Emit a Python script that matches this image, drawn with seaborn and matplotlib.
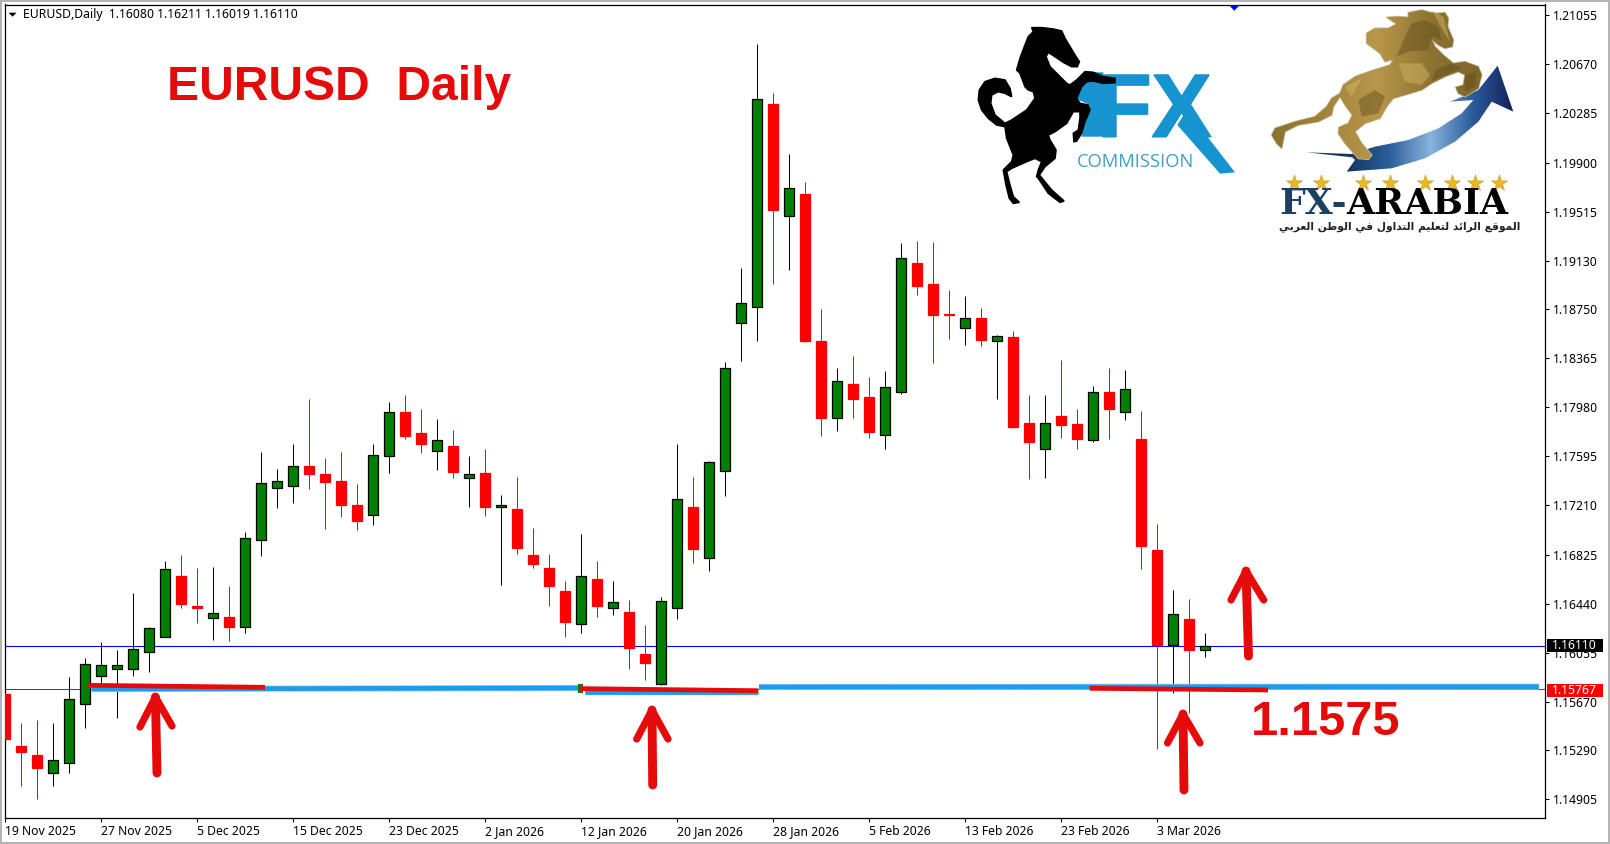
'''
EURUSD daily candlestick chart with the two broker logos and support marks
'''
import matplotlib
matplotlib.use('Agg')
import matplotlib.patheffects as pe
import matplotlib.pyplot as plt
from matplotlib.colors import LinearSegmentedColormap
from matplotlib.patches import Polygon, Rectangle
import numpy as np
import pandas as pd
import seaborn as sns

# candles, oldest first
OPENS = [1.15731, 1.15323, 1.15250, 1.15109, 1.15187, 1.15655, 1.15874, 1.15930, 1.15930, 1.16064,
         1.16180, 1.16657, 1.16421, 1.16329, 1.16335, 1.16259, 1.16937, 1.17349, 1.17364, 1.17520,
         1.17457, 1.17398, 1.17214, 1.17137, 1.17600, 1.17943, 1.17778, 1.17640, 1.17676, 1.17428,
         1.17464, 1.17200, 1.17182, 1.16821, 1.16720, 1.16539, 1.16282, 1.16633, 1.16407, 1.16375,
         1.16045, 1.15811, 1.16402, 1.17198, 1.16799, 1.17483, 1.18639, 1.18764, 1.20359, 1.19483,
         1.19653, 1.18500, 1.17898, 1.18163, 1.18061, 1.17765, 1.18102, 1.19112, 1.18947, 1.18709,
         1.18604, 1.18680, 1.18502, 1.18531, 1.17857, 1.17655, 1.17912, 1.17849, 1.17726, 1.18100,
         1.17945, 1.17729, 1.16861, 1.16113, 1.16319, 1.16080]
HIGHS = [1.15972, 1.15501, 1.15527, 1.15501, 1.15864, 1.16011, 1.16139, 1.16076, 1.16523, 1.16254,
         1.16774, 1.16821, 1.16719, 1.16727, 1.16578, 1.16999, 1.17629, 1.17496, 1.17692, 1.18045,
         1.17582, 1.17629, 1.17378, 1.17692, 1.18022, 1.18076, 1.17967, 1.17888, 1.17802, 1.17598,
         1.17653, 1.17292, 1.17433, 1.17033, 1.16829, 1.16620, 1.16987, 1.16775, 1.16619, 1.16468,
         1.16272, 1.16492, 1.17692, 1.17433, 1.17559, 1.18335, 1.19073, 1.20830, 1.20445, 1.19967,
         1.19747, 1.18751, 1.18288, 1.18382, 1.18218, 1.18265, 1.19269, 1.19285, 1.19277, 1.18900,
         1.18853, 1.18757, 1.18547, 1.18578, 1.18076, 1.18076, 1.18351, 1.17967, 1.18147, 1.18288,
         1.18273, 1.17953, 1.17065, 1.16547, 1.16476, 1.16211]
LOWS = [1.15174, 1.15012, 1.14910, 1.15012, 1.15114, 1.15467, 1.15762, 1.15545, 1.15874, 1.15906,
        1.16178, 1.16408, 1.16285, 1.16157, 1.16149, 1.16212, 1.16816, 1.17190, 1.17229, 1.17339,
        1.17028, 1.17119, 1.17020, 1.17059, 1.17464, 1.17730, 1.17618, 1.17488, 1.17425, 1.17200,
        1.17127, 1.16588, 1.16829, 1.16719, 1.16421, 1.16179, 1.16209, 1.16335, 1.16351, 1.15927,
        1.15841, 1.15802, 1.16320, 1.16759, 1.16697, 1.17285, 1.18345, 1.18502, 1.18947, 1.19057,
        1.18492, 1.17755, 1.17794, 1.17897, 1.17739, 1.17653, 1.18084, 1.18861, 1.18327, 1.18516,
        1.18469, 1.18461, 1.18045, 1.17818, 1.17417, 1.17425, 1.17739, 1.17653, 1.17708, 1.17731,
        1.17880, 1.16711, 1.15299, 1.15741, 1.15584, 1.16019]
CLOSES = [1.15380, 1.15278, 1.15153, 1.15211, 1.15689, 1.15964, 1.15956, 1.15956, 1.16082, 1.16246,
          1.16709, 1.16439, 1.16406, 1.16364, 1.16259, 1.16953, 1.17384, 1.17400, 1.17517, 1.17457,
          1.17397, 1.17214, 1.17088, 1.17603, 1.17941, 1.17755, 1.17692, 1.17721, 1.17472, 1.17457,
          1.17198, 1.17210, 1.16876, 1.16751, 1.16579, 1.16296, 1.16660, 1.16421, 1.16451, 1.16092,
          1.15974, 1.16457, 1.17257, 1.16868, 1.17548, 1.18287, 1.18796, 1.20396, 1.19528, 1.19698,
          1.18500, 1.17897, 1.18184, 1.18045, 1.17786, 1.18137, 1.19149, 1.18931, 1.18704, 1.18704,
          1.18678, 1.18508, 1.18537, 1.17825, 1.17708, 1.17854, 1.17841, 1.17731, 1.18098, 1.17967,
          1.18121, 1.16892, 1.16113, 1.16356, 1.16076, 1.16110]

# axes labels
X_TICKS = [0, 6, 12, 18, 24, 30, 36, 42, 48, 54, 60, 66, 72]
X_LABELS = ['19 Nov 2025', '27 Nov 2025', '5 Dec 2025', '15 Dec 2025', '23 Dec 2025',
            '2 Jan 2026', '12 Jan 2026', '20 Jan 2026', '28 Jan 2026', '5 Feb 2026',
            '13 Feb 2026', '23 Feb 2026', '3 Mar 2026']
Y_TICKS = [1.21055, 1.20670, 1.20285, 1.19900, 1.19515, 1.19130, 1.18750, 1.18365, 1.17980,
           1.17595, 1.17210, 1.16825, 1.16440, 1.16055, 1.15670, 1.15290, 1.14905]
LAST_PRICE = 1.16110
LEVEL_PRICE = 1.15767

# logo outlines, traced in crop pixels of each logo
BLACK_HORSE = [(185, 38), (215, 38), (250, 42), (275, 48), (285, 70), (300, 95), (315, 120), (328, 140),
               (322, 155), (305, 155), (280, 142), (255, 125), (235, 112), (228, 125), (240, 155),
               (265, 180), (290, 205), (300, 210), (320, 195), (345, 170), (370, 172), (400, 185),
               (435, 190), (435, 203), (400, 205), (370, 198), (350, 200), (335, 215), (320, 250),
               (330, 265), (355, 270), (360, 285), (345, 320), (335, 355), (320, 378), (312, 380),
               (310, 355), (325, 345), (330, 310), (330, 290), (310, 290), (290, 325), (255, 350),
               (235, 360), (240, 375), (258, 405), (255, 430), (225, 455), (208, 480), (245, 525),
               (282, 558), (270, 562), (235, 535), (205, 490), (200, 485), (205, 465), (215, 440),
               (195, 430), (170, 440), (125, 460), (110, 470), (120, 510), (130, 545), (148, 562),
               (130, 565), (118, 550), (108, 510), (100, 465), (125, 440), (130, 420), (110, 370),
               (105, 335), (80, 330), (55, 310), (35, 285), (25, 255), (28, 225), (45, 200), (75, 190),
               (105, 195), (120, 220), (125, 245), (105, 235), (85, 230), (65, 240), (62, 265),
               (75, 300), (105, 325), (125, 315), (170, 285), (195, 250), (190, 230), (175, 225),
               (165, 215), (150, 175), (140, 165), (150, 130), (165, 90), (175, 65), (190, 50)]
F_STEM = [(345, 172), (400, 172), (400, 365), (335, 365), (360, 270), (315, 250)]
X_LEG = [(650, 285), (795, 472), (750, 476), (622, 330)]
GOLD_HORSE = [(430, 38), (470, 30), (500, 38), (520, 40), (540, 38), (550, 55), (548, 80), (565, 120),
              (562, 140), (540, 145), (520, 135), (500, 118), (510, 140), (535, 165), (565, 190),
              (600, 185), (640, 200), (650, 225), (640, 265), (600, 290), (580, 280), (572, 262),
              (595, 255), (600, 225), (580, 215), (540, 230), (500, 250), (470, 270), (420, 285),
              (385, 295), (365, 320), (345, 355), (300, 370), (270, 395), (290, 430), (320, 465),
              (310, 478), (280, 475), (240, 430), (220, 400), (222, 382), (250, 370), (262, 345),
              (240, 315), (225, 290), (205, 320), (200, 345), (160, 365), (100, 375), (60, 395),
              (50, 445), (35, 430), (20, 405), (30, 385), (90, 365), (150, 350), (185, 320), (200, 295),
              (225, 280), (235, 255), (270, 230), (320, 212), (375, 195), (385, 178), (360, 185),
              (345, 160), (325, 145), (305, 130), (305, 100), (330, 85), (370, 85), (395, 72),
              (365, 52), (400, 50), (430, 52)]
GOLD_DARK = [[(440, 70), (480, 60), (520, 80), (530, 120), (500, 110), (490, 150), (430, 155), (395, 170),
              (420, 110)],
             [(280, 300), (330, 270), (360, 290), (340, 340), (290, 350)],
             [(510, 210), (560, 190), (590, 205), (540, 225), (500, 245)],
             [(600, 225), (635, 215), (630, 260), (600, 275)]]
GOLD_LIGHT = [[(400, 190), (470, 190), (495, 225), (470, 255), (420, 245)],
              [(240, 260), (290, 235), (260, 290)],
              [(500, 30), (535, 50), (555, 125), (530, 85)]]
SWOOSH = [(125, 457), (260, 462), (330, 440), (430, 420), (520, 385), (590, 340), (625, 300), (555, 305),
          (640, 270), (698, 197), (745, 335), (680, 305), (640, 365), (570, 425), (480, 475), (380, 505),
          (245, 515), (270, 480), (262, 472)]
STAR_X = [1294.3, 1320.7, 1363.3, 1390, 1425, 1452.3, 1475.3, 1499]

ARABIC_TAGLINE = 'الموقع الرائد لتعليم التداول في الوطن العربي'
ARABIC_FORMS = {'ا': (0xFE8D, False), 'ل': (0xFEDD, True), 'م': (0xFEE1, True), 'و': (0xFEED, False),
                'ق': (0xFED5, True), 'ع': (0xFEC9, True), 'ر': (0xFEAD, False), 'ئ': (0xFE89, True),
                'د': (0xFEA9, False), 'ت': (0xFE95, True), 'ي': (0xFEF1, True), 'ف': (0xFED1, True),
                'ط': (0xFEC1, True), 'ن': (0xFEE5, True), 'ب': (0xFE8F, True)}


def shape_arabic(text):
    '''
    Turn Arabic letters into joined presentation forms in drawing order
    '''
    shaped = []
    for pos, char in enumerate(text):
        if char not in ARABIC_FORMS:
            shaped.append(char)
            continue
        base, dual = ARABIC_FORMS[char]
        before = pos > 0 and text[pos - 1] in ARABIC_FORMS and ARABIC_FORMS[text[pos - 1]][1]
        after = dual and pos + 1 < len(text) and text[pos + 1] in ARABIC_FORMS
        if before and after:
            shaped.append(chr(base + 3))
        elif after:
            shaped.append(chr(base + 2))
        elif before:
            shaped.append(chr(base + 1))
        else:
            shaped.append(chr(base))
    return ''.join(reversed(shaped))


def crop_points(points, left, top):
    '''
    Crop pixels (3x) to figure pixels
    '''
    return [(left + px / 3, top + py / 3) for px, py in points]


def hand_arrow(over, apex, foot, barb_l, barb_r):
    '''
    Red marker-style arrow pointing up
    '''
    red = '#e60b0b'
    over.plot([foot[0], apex[0]], [foot[1], apex[1]], color=red, lw=6.4, solid_capstyle='round')
    over.plot([barb_l[0], apex[0], barb_r[0]], [barb_l[1], apex[1], barb_r[1]], color=red, lw=5.2,
              solid_capstyle='round', solid_joinstyle='round')


def gradient_fill(over, outline, colors, extent, zorder):
    '''
    Left to right colour gradient clipped to a polygon
    '''
    cmap = LinearSegmentedColormap.from_list('fill', colors)
    img = over.imshow(np.linspace(0, 1, 256).reshape(1, -1), cmap=cmap, extent=extent,
                      aspect='auto', zorder=zorder)
    img.set_clip_path(Polygon(outline, closed=True, transform=over.transData))


def draw_chart(axis):
    '''
    Wicks, bodies, price lines and both axes
    '''
    candles = pd.DataFrame({'bar': range(len(OPENS)), 'open': OPENS, 'high': HIGHS,
                            'low': LOWS, 'close': CLOSES})
    candles['lower'] = candles[['open', 'close']].min(axis=1)
    candles['height'] = (candles['close'] - candles['open']).abs()
    rising = candles[candles['close'] >= candles['open']]
    falling = candles[candles['close'] < candles['open']]

    for part, wick, face in ((rising, 'black', '#008000'), (falling, '#ff0000', '#ff0000')):
        axis.vlines(part['bar'], part['low'], part['high'], color=wick, lw=0.72, zorder=2)
        sns.barplot(data=part, x='bar', y='height', bottom=part['lower'].values, native_scale=True,
                    orient='x', width=0.62, color=face, saturation=1, edgecolor=wick, linewidth=0.9,
                    errorbar=None, zorder=3, ax=axis)

    axis.axhline(LAST_PRICE, color='#0000ff', lw=0.8, zorder=1)
    axis.axhline(LEVEL_PRICE, color='#e00000', lw=0.72, zorder=1)

    axis.set_xlim(-0.056, 96.25)
    axis.set_ylim(1.147583, 1.211397)
    axis.set(xlabel='', ylabel='')
    axis.set_xticks(X_TICKS)
    axis.set_xticklabels(X_LABELS, ha='left', fontsize=8.8)
    axis.set_yticks(Y_TICKS)
    axis.set_yticklabels(['%.5f' % val for val in Y_TICKS], fontsize=8.8)
    axis.yaxis.tick_right()
    axis.tick_params(axis='y', length=3, width=0.8, color='black', labelcolor='black', pad=3,
                     right=True)
    axis.tick_params(axis='x', length=3, width=0.8, color='black', labelcolor='black', pad=2,
                     bottom=True)
    for spine in axis.spines.values():
        spine.set_color('black')
        spine.set_linewidth(0.9)
        spine.set_visible(True)
    axis.text(0.0117, 0.9875, 'EURUSD,Daily  1.16080 1.16211 1.16019 1.16110', transform=axis.transAxes,
              fontsize=8.8, color='black', ha='left', va='center')


def draw_marks(over):
    '''
    Hand drawn support lines, arrows and titles
    '''
    for (x_a, y_a, x_b, y_b) in ((92, 689, 583, 688), (585, 692, 758, 692), (759, 687, 1538.8, 686.7)):
        over.plot([x_a, x_b], [y_a, y_b], color='#8fd0f8', lw=4.4, solid_capstyle='butt', zorder=4)
        over.plot([x_a, x_b], [y_a, y_b], color='#1e9bef', lw=3.4, solid_capstyle='butt', zorder=4)
    over.add_patch(Rectangle((578, 684), 4.5, 8.5, fc='#008000', ec='none', zorder=4))
    for (x_a, y_a, x_b, y_b) in ((87.5, 685.3, 265, 687.3), (580, 688.6, 758, 690.7),
                                 (1089.6, 688.3, 1268, 690)):
        over.plot([x_a, x_b], [y_a, y_b], color='#e60b0b', lw=3.4, solid_capstyle='butt', zorder=5)

    hand_arrow(over, (155.4, 697), (157, 773), (140, 727), (172, 726))
    hand_arrow(over, (652, 710), (652.7, 785), (636.7, 739), (668, 739))
    hand_arrow(over, (1183, 714), (1184, 790), (1167.5, 743), (1200, 743))
    hand_arrow(over, (1246, 571), (1248.5, 656), (1231, 600), (1263.7, 600))

    over.text(167, 100, 'EURUSD  Daily', color='#e60b0b', fontsize=34.6, fontweight='bold',
              family='Liberation Sans', ha='left', va='baseline', zorder=6)
    over.text(1251, 735, '1.1575', color='#e60b0b', fontsize=35.2, fontweight='bold',
              family='Liberation Sans', ha='left', va='baseline', zorder=6)

    # price boxes on the right axis
    over.add_patch(Rectangle((1546.5, 639), 56, 12.7, fc='black', ec='none', zorder=6))
    over.text(1552, 645.5, '%.5f' % LAST_PRICE, color='white', fontsize=8.8, ha='left', va='center', zorder=7)
    over.add_patch(Rectangle((1546.5, 684), 56, 12.7, fc='#ff0000', ec='none', zorder=6))
    over.text(1552, 690.5, '%.5f' % LEVEL_PRICE, color='white', fontsize=8.8, ha='left', va='center', zorder=7)

    # small chart markers
    over.add_patch(Polygon([(1228.8, 5), (1239.8, 5), (1234.3, 10.7)], fc='#0000d0', ec='none', zorder=6))
    over.add_patch(Polygon([(8.6, 12.7), (16.5, 12.7), (12.5, 16.7)], fc='black', ec='none', zorder=6))


def draw_logos(over):
    '''
    FX Commission logo on the left, FX-Arabia logo on the right
    '''
    blue = '#1694d0'
    over.add_patch(Polygon(crop_points(F_STEM, 970, 15), fc=blue, ec='none', zorder=4))
    over.add_patch(Polygon(crop_points(X_LEG, 970, 15), fc=blue, ec='none', zorder=4))
    over.text(1097, 136.7, 'FX', color=blue, fontsize=64.5, fontweight='bold', family='Liberation Sans',
              ha='left', va='baseline', zorder=4,
              path_effects=[pe.withStroke(linewidth=1.2, foreground=blue)])
    over.text(1077.3, 166.7, 'COMMISSION', color='#3f9fc4', fontsize=13.2, family='Open Sans',
              ha='left', va='baseline', zorder=4)
    over.add_patch(Polygon(crop_points(BLACK_HORSE, 970, 15), fc='black', ec='black', lw=1.2, zorder=5))

    gradient_fill(over, crop_points(SWOOSH, 1265, 0),
                  ['#16355f', '#16355f', '#2a5f9a', '#8ab3dc', '#2b5c9c', '#141f5c'],
                  (1306, 1514, 172, 65), 4)
    gold = crop_points(GOLD_HORSE, 1265, 0)
    over.add_patch(Polygon(gold, fc='none', ec='#c4bb9c', lw=1.2, zorder=5))
    gradient_fill(over, gold, ['#8a7030', '#a2833a', '#b8974a', '#8d7330', '#7d6628'],
                  (1270, 1485, 200, 0), 5)
    for patch in GOLD_DARK:
        over.add_patch(Polygon(crop_points(patch, 1265, 0), fc='#5f4c1c', ec='none', alpha=0.45, zorder=5))
    for patch in GOLD_LIGHT:
        over.add_patch(Polygon(crop_points(patch, 1265, 0), fc='#d8bb6c', ec='none', alpha=0.45, zorder=5))

    over.scatter(STAR_X, [183] * len(STAR_X), marker='*', s=150, color='#e8b923', edgecolor='#c89b1b',
                 linewidth=0.4, zorder=5)
    first = over.text(1279, 214, 'FX-', color='#1c3f66', fontsize=26, fontweight='bold',
                      family='DejaVu Serif', ha='left', va='baseline', zorder=6)
    box = first.get_window_extent(over.figure.canvas.get_renderer())
    over.text(1279 + box.width, 214, 'ARABIA', color='black', fontsize=26, fontweight='bold',
              family='DejaVu Serif', ha='left', va='baseline', zorder=6)
    over.text(1399.5, 226.5, shape_arabic(ARABIC_TAGLINE), color='#222222', fontsize=7.7, fontweight='bold',
              family='DejaVu Sans', ha='center', va='center', zorder=6)


if __name__ == '__main__':
    sns.set_theme(style='white', rc={'axes.facecolor': 'white', 'figure.facecolor': 'white'})
    plt.rcParams['font.family'] = ['Noto Sans', 'DejaVu Sans']

    fig = plt.figure(figsize=(16.1, 8.44), dpi=100)
    ax = fig.add_axes([4.5 / 1610, 26 / 844, 1540.5 / 1610, 813.5 / 844])
    draw_chart(ax)

    # overlay in figure pixels for the hand drawn parts
    overlay = fig.add_axes([0, 0, 1, 1], zorder=5)
    overlay.patch.set_visible(False)
    overlay.axis('off')
    draw_marks(overlay)
    draw_logos(overlay)
    overlay.set_xlim(0, 1610)
    overlay.set_ylim(844, 0)

    # window edge
    for rect in ((0, 0, 1610, 2), (0, 0, 1.5, 844), (0, 841.5, 1610, 2.5), (1608, 0, 2, 844)):
        overlay.add_patch(Rectangle(rect[:2], rect[2], rect[3], fc='#b4b4b4', ec='none', zorder=8))

    fig.savefig('out.png', dpi=100)
